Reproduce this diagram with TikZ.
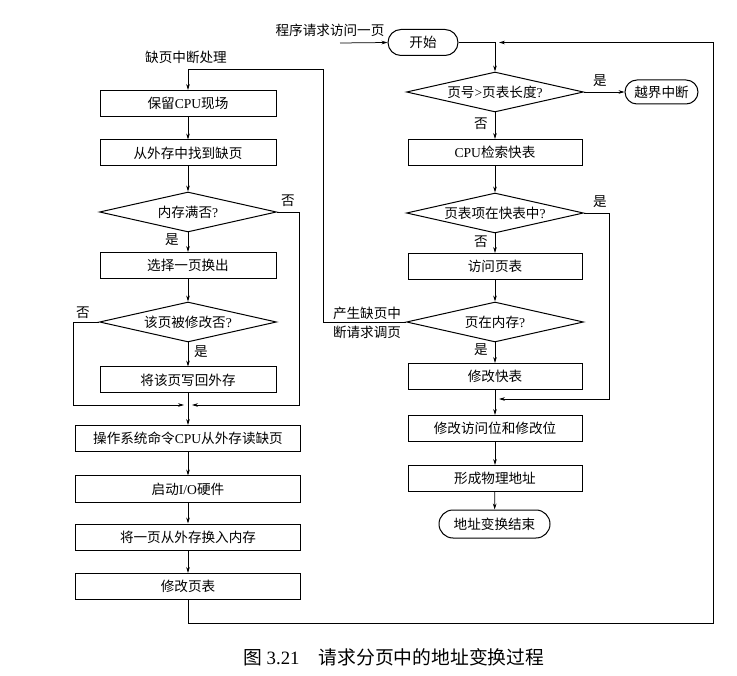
\documentclass[tikz,border=0pt]{standalone}
\usepackage{fontspec}
\setmainfont{Liberation Serif}
\newfontfamily\cjk{Noto Sans CJK SC}
\usetikzlibrary{shapes.geometric,shapes.misc,arrows.meta}
\begin{document}
\begin{tikzpicture}[x=1pt,y=-1pt,
  txt/.style={font=\fontsize{13.6}{16}\selectfont, inner sep=1pt},
  box/.style={draw, line width=1pt, minimum width=176pt, minimum height=26pt, inner sep=0pt, font=\fontsize{13.6}{16}\selectfont},
  wbox/.style={box, minimum width=225pt},
  dia/.style={draw, diamond, aspect=4.4, minimum width=177pt, minimum height=40pt, inner sep=0pt, line width=1pt, font=\fontsize{13.6}{16}\selectfont},
  term/.style={draw, rounded rectangle, minimum height=26pt, inner sep=0pt, line width=1pt, font=\fontsize{13.6}{16}\selectfont},
  arr/.style={-{Stealth[length=6pt,width=3.6pt]}, line width=0.75pt},
  ln/.style={line width=0.75pt}]
\useasboundingbox (0,0) rectangle (737,676);
% ---------- left column ----------
\node[txt] (t0) at (186,57) {\cjk 缺页中断处理};
\node[box] (b1) at (188,103.5) {{\cjk 保留}CPU{\cjk 现场}};
\node[box] (b2) at (188,153) {\cjk 从外存中找到缺页};
\node[dia] (d1) at (188,212) {{\cjk 内存满否}?};
\node[box] (b3) at (188,265.5) {\cjk 选择一页换出};
\node[dia] (d2) at (188,322) {{\cjk 该页被修改否}?};
\node[box] (b4) at (188,380) {\cjk 将该页写回外存};
\coordinate (m1) at (188,405);
\node[wbox] (b5) at (188,438.5) {{\cjk 操作系统命令}CPU{\cjk 从外存读缺页}};
\node[wbox] (b6) at (188,489) {{\cjk 启动}I/O{\cjk 硬件}};
\node[wbox] (b7) at (188,537) {\cjk 将一页从外存换入内存};
\node[wbox] (b8) at (188,586.5) {\cjk 修改页表};
\node[txt] (l1) at (288,201) {\cjk 否};
\node[txt] (l2) at (172,240) {\cjk 是};
\node[txt] (l3) at (83,313) {\cjk 否};
\node[txt] (l4) at (201,352) {\cjk 是};
% ---------- right column ----------
\node[txt] (s0) at (330,30) {\cjk 程序请求访问一页};
\coordinate (c0) at (340,43);
\node[term, minimum width=70pt] (st) at (423,42.5) {\cjk 开始};
\coordinate (j0) at (495,42.5);
\node[dia] (d3) at (495,92) {{\cjk 页号}>{\cjk 页表长度}?};
\node[term, minimum width=73pt, minimum height=24pt] (ov) at (661.5,92) {\cjk 越界中断};
\node[box, minimum width=174pt] (b9) at (495,152.5) {CPU{\cjk 检索快表}};
\node[dia] (d4) at (495,213) {{\cjk 页表项在快表中}?};
\node[box, minimum width=174pt] (b10) at (495,266.5) {\cjk 访问页表};
\node[dia] (d5) at (495,322) {{\cjk 页在内存}?};
\node[box, minimum width=174pt] (b11) at (495,376.5) {\cjk 修改快表};
\coordinate (m2) at (495,399);
\node[box, minimum width=174pt] (b12) at (495,428.5) {\cjk 修改访问位和修改位};
\node[box, minimum width=174pt] (b13) at (495,478.5) {\cjk 形成物理地址};
\node[term, minimum width=111pt, minimum height=28pt] (en) at (494.5,524) {\cjk 地址变换结束};
\node[txt] (r1) at (600,81) {\cjk 是};
\node[txt] (r2) at (481,124) {\cjk 否};
\node[txt] (r3) at (600,202) {\cjk 是};
\node[txt] (r4) at (481,242) {\cjk 否};
\node[txt] (r5) at (481,350) {\cjk 是};
\node[txt, align=center] (r6) at (367,322.5) {\cjk 产生缺页中\\[3pt]\cjk 断请求调页};
\coordinate (c1) at (323,69);
\coordinate (c2) at (713,623);
% caption
\node[anchor=west, font=\fontsize{18.8}{21}\selectfont, inner sep=0pt] (cap) at (243,657) {{\cjk 图} 3.21\hspace{19pt}{\cjk 请求分页中的地址变换过程}};
% ---------- connectors left ----------
\draw[arr] (b1) -- (b2);
\draw[arr] (b2) -- (d1);
\draw[arr] (d1) -- (b3);
\draw[arr] (b3) -- (d2);
\draw[arr] (d2) -- (b4);
\draw[arr] (b4) -- (b5);
\draw[arr] (d1.east) -- ++(22,0) |- ([xshift=4pt]m1);
\draw[arr] (d2.west) -- ++(-26,0) |- ([xshift=-4pt]m1);
\draw[arr] (b5) -- (b6);
\draw[arr] (b6) -- (b7);
\draw[arr] (b7) -- (b8);
\draw[arr] (d5.west) -| (c1) -| (b1.north);
\draw[arr] (b8.south) |- (c2) |- ([xshift=4pt]j0);
% ---------- connectors right ----------
\draw[arr] (c0) -- (st.west);
\draw[ln] (st.east) -- (j0);
\draw[arr] (j0) -- (d3.north);
\draw[arr] (d3) -- (ov);
\draw[arr] (d3) -- (b9);
\draw[arr] (b9) -- (d4);
\draw[arr] (d4) -- (b10);
\draw[arr] (b10) -- (d5);
\draw[arr] (d5) -- (b11);
\draw[arr] (b11) -- (b12);
\draw[arr] (d4.east) -- ++(25,0) |- ([xshift=4pt]m2);
\draw[arr] (b12) -- (b13);
\draw[arr] (b13) -- (en);
\end{tikzpicture}
\end{document}
